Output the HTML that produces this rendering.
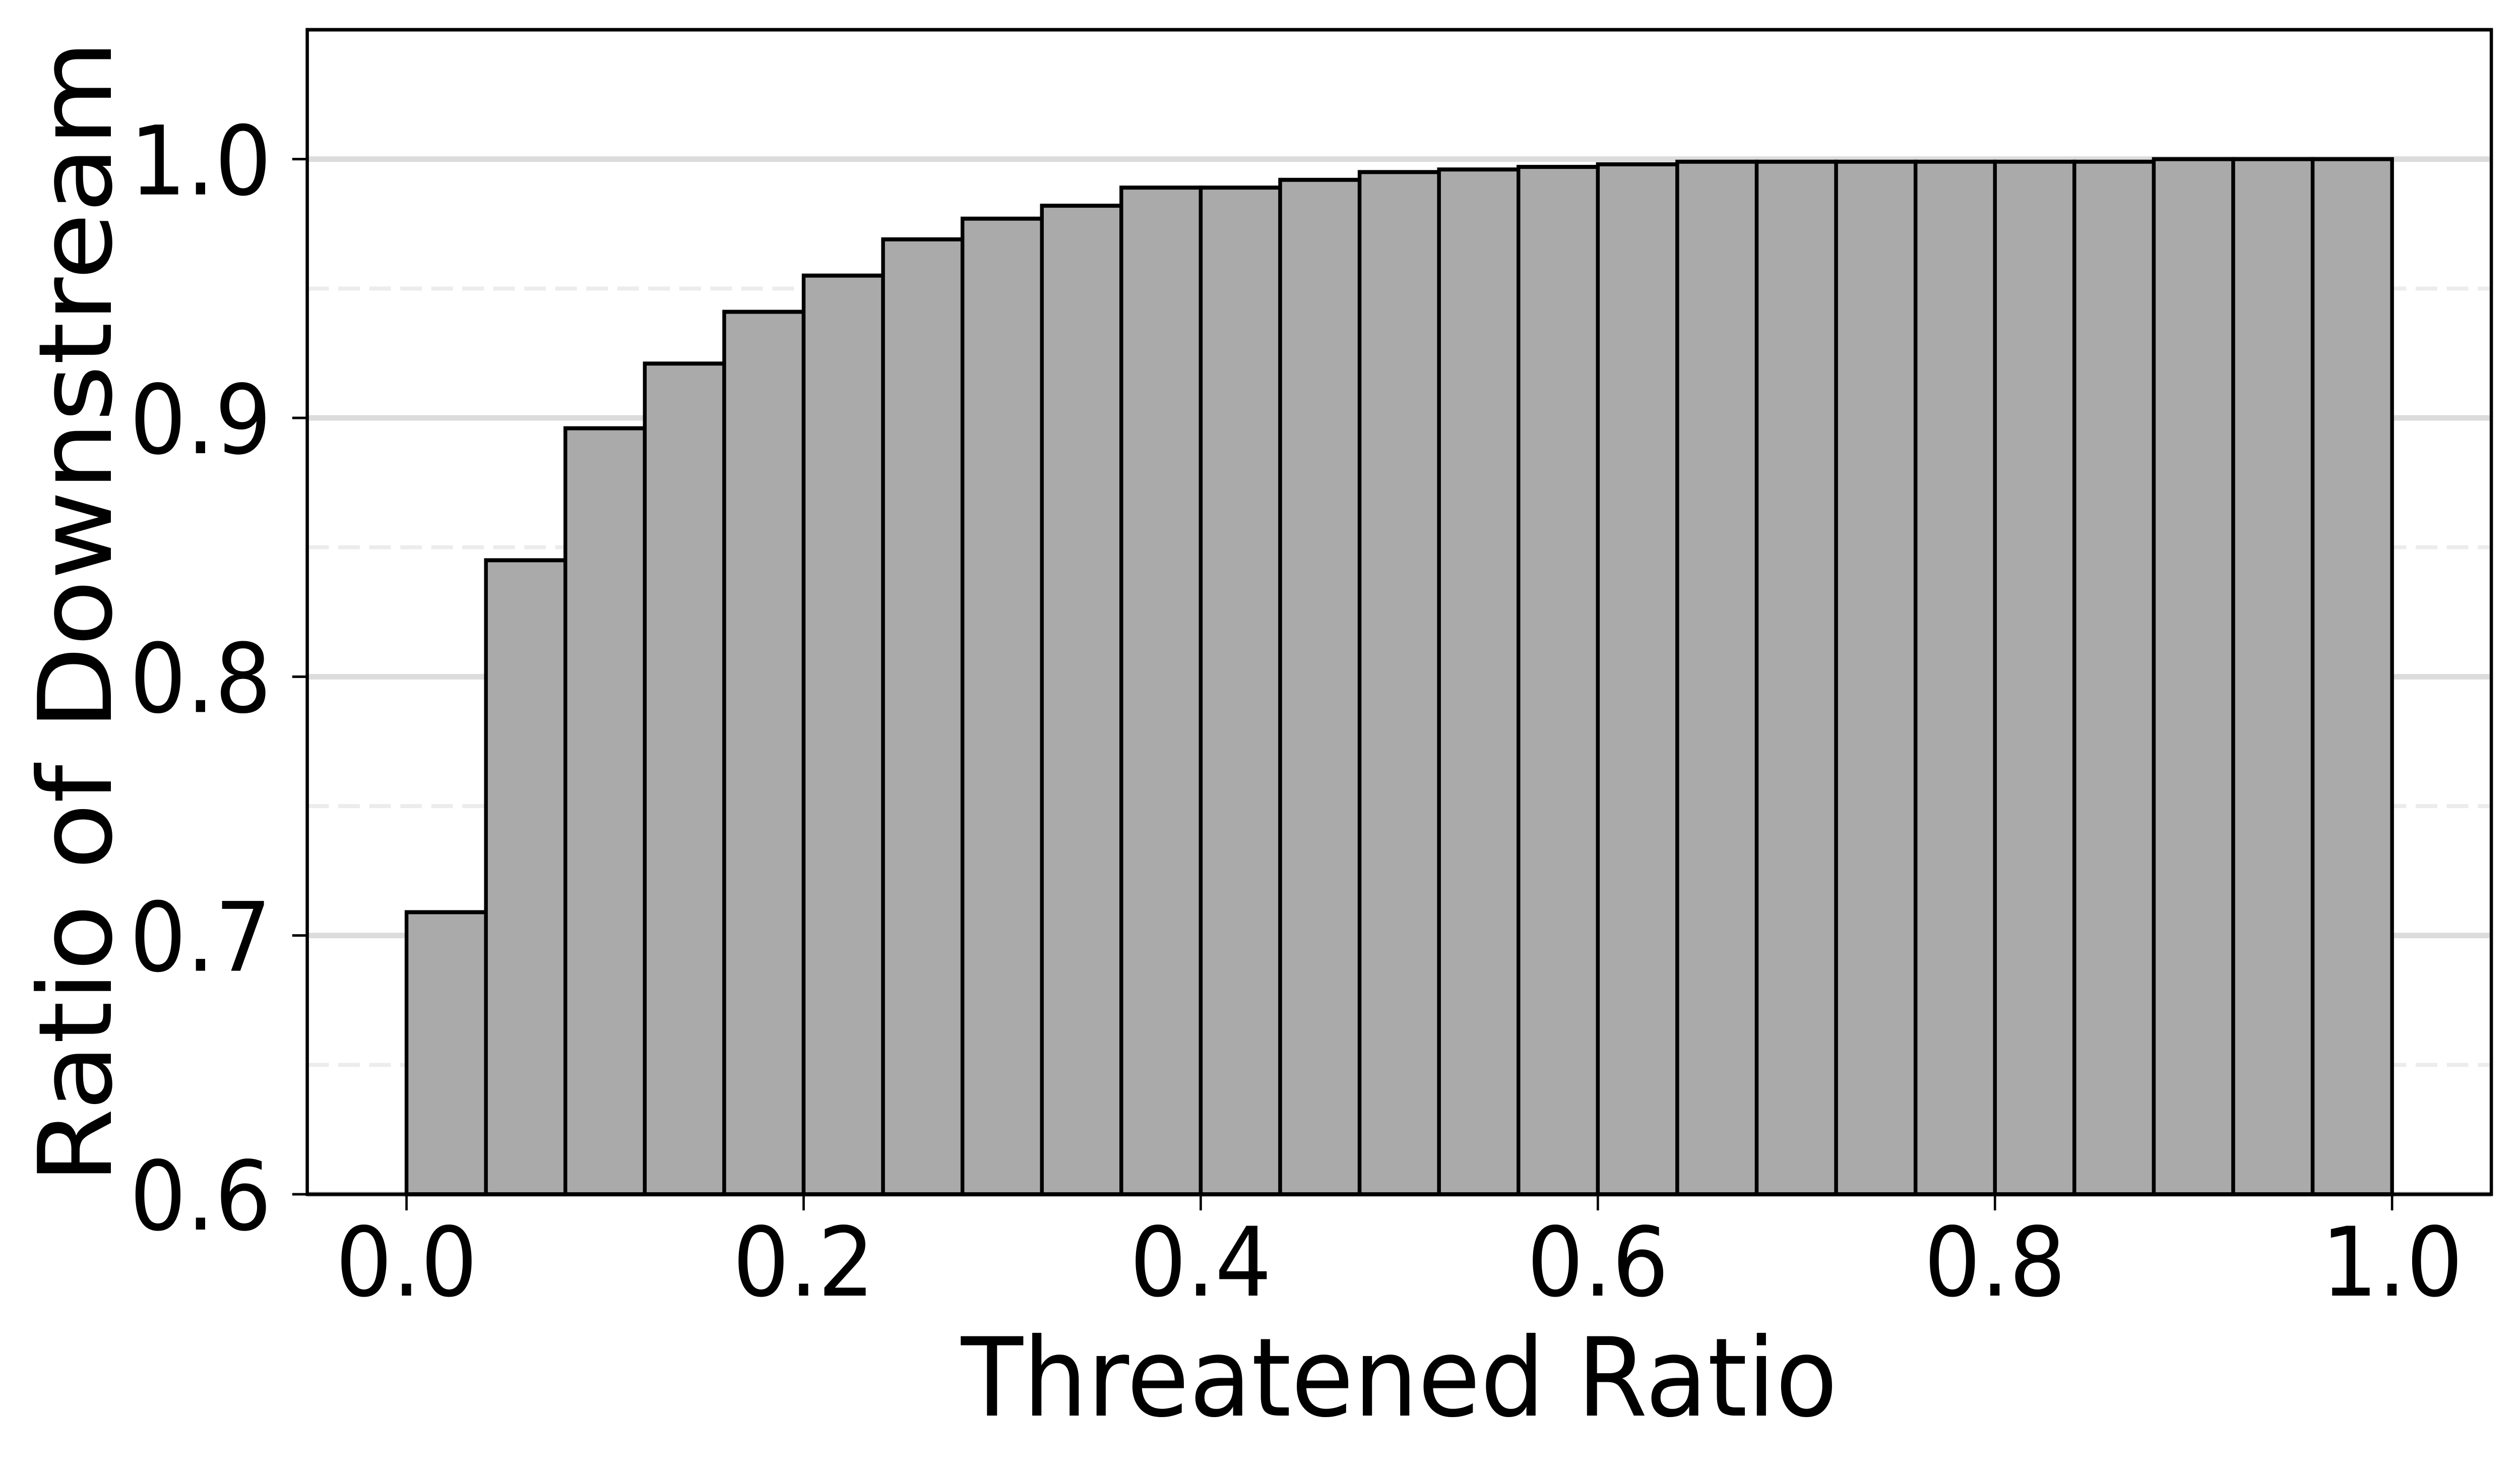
<!DOCTYPE html>
<html><head><meta charset="utf-8"><style>
html,body{margin:0;padding:0;background:#fff;overflow:hidden;width:100%;height:100%;}
svg{display:block;width:100vw;height:100vh;}
text{font-family:"DejaVu Sans","Liberation Sans",sans-serif;fill:#000;}
</style></head><body>
<svg id="chart" viewBox="0 0 5364 2910" preserveAspectRatio="none" xmlns="http://www.w3.org/2000/svg">
<g id="grid"></g>
<g id="bars"></g>
<g id="axes"></g>
</svg>
<script>
const binStarts = [0,0.04,0.08,0.12,0.16,0.20,0.24,0.28,0.32,0.36,0.40,0.44,0.48,0.52,0.56,0.60,0.64,0.68,0.72,0.76,0.80,0.84,0.88,0.92,0.96];
const values = [0.709,0.845,0.896,0.921,0.941,0.955,0.969,0.977,0.982,0.989,0.989,0.992,0.995,0.996,0.997,0.998,0.999,0.999,0.999,0.999,0.999,0.999,1.0,1.0,1.0];
const binWidth = 0.04;
const xTicks = [0,0.2,0.4,0.6,0.8,1.0];
const xTickLabels = ["0.0","0.2","0.4","0.6","0.8","1.0"];
const yTicks = [0.6,0.7,0.8,0.9,1.0];
const yTickLabels = ["0.6","0.7","0.8","0.9","1.0"];
const yMinor = [0.65,0.75,0.85,0.95];

const L=654,R=5303,T=59,B=2369;
const xMin=-0.05,xMax=1.05,yMin=0.6,yMax=1.05;
const X=v=>L+(v-xMin)/(xMax-xMin)*(R-L);
const Y=v=>B-(v-yMin)/(yMax-yMin)*(B-T);
const NS="http://www.w3.org/2000/svg";
function mk(tag,attrs,parent){const e=document.createElementNS(NS,tag);for(const k in attrs)e.setAttribute(k,attrs[k]);parent.appendChild(e);return e;}
const grid=document.getElementById('grid'),bars=document.getElementById('bars'),axes=document.getElementById('axes');

yMinor.forEach(v=>{
  const l=mk('line',{x1:L,x2:R,y1:Y(v),y2:Y(v),stroke:'#ececec','stroke-width':8,'stroke-dasharray':'46,20'},grid);
  
  
});
yTicks.forEach(v=>{
  const l=mk('line',{x1:L,x2:R,y1:Y(v),y2:Y(v),stroke:'#dcdcdc','stroke-width':11},grid);
  
  
});
binStarts.forEach((s,i)=>{
  const x0=X(s),x1=X(s+binWidth),y=Y(values[i]);
  const r=mk('rect',{x:x0,y:y,width:x1-x0,height:B-y,fill:'#aaaaaa',stroke:'#000','stroke-width':8},bars);
  
  
});
const frame=mk('rect',{x:L,y:T,width:R-L,height:B-T,fill:'none',stroke:'#000','stroke-width':7},axes);


xTicks.forEach((v,i)=>{
  const t=mk('line',{x1:X(v),x2:X(v),y1:B,y2:B+32,stroke:'#000','stroke-width':5},axes);
  
  
  const tx=mk('text',{x:X(v),y:2570,'font-size':190,'text-anchor':'middle'},axes);
  tx.textContent=xTickLabels[i];
  
  
});
yTicks.forEach((v,i)=>{
  const t=mk('line',{x1:L-32,x2:L,y1:Y(v),y2:Y(v),stroke:'#000','stroke-width':5},axes);
  
  
  const tx=mk('text',{x:578,y:Y(v)+70,'font-size':190,'text-anchor':'end'},axes);
  tx.textContent=yTickLabels[i];
  
  
});
const xl=mk('text',{x:(L+R)/2,y:2808,'font-size':216,'text-anchor':'middle'},axes);
xl.textContent='Threatened Ratio';


const yl=mk('text',{x:0,y:0,'font-size':216,'text-anchor':'middle',transform:'translate(236,'+((T+B)/2)+') rotate(-90)'},axes);
yl.textContent='Ratio of Downstream';


</script>
</body></html>
